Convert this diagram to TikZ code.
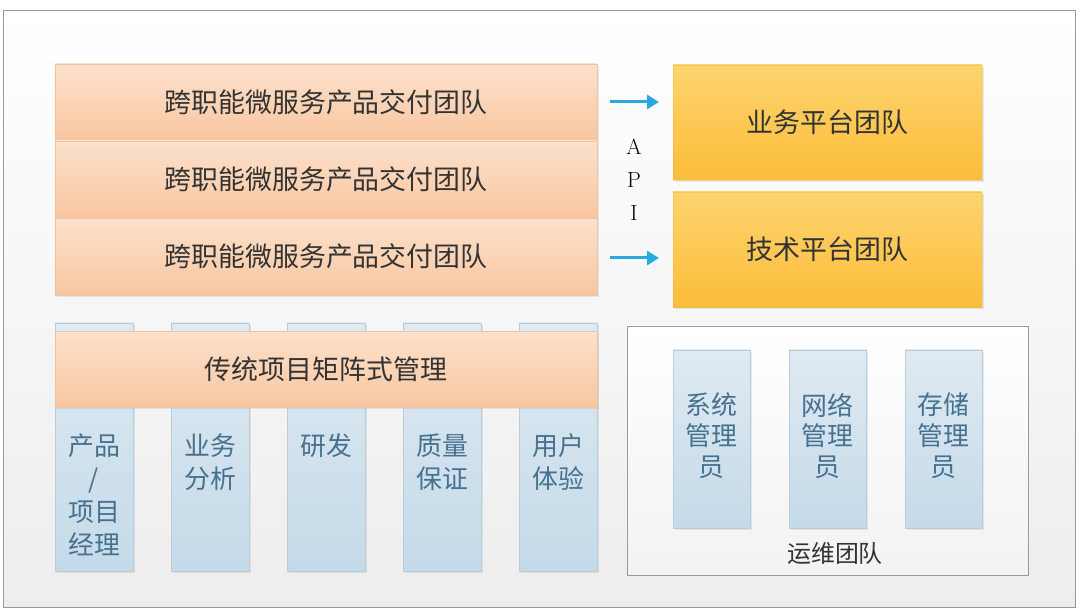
\documentclass[tikz,border=0pt]{standalone}
\usepackage{xcolor}
\usepackage{fontspec}
\usepackage{tikz}
\usetikzlibrary{positioning, shadows, arrows.meta, calc}
\newfontfamily\cjk{Noto Sans CJK SC}
\definecolor{peachtop}{HTML}{FCE1CC}
\definecolor{peachbot}{HTML}{F8C6A0}
\definecolor{peachline}{HTML}{EDC3A3}
\definecolor{ambertop}{HTML}{FDD46E}
\definecolor{amberbot}{HTML}{FBBD3B}
\definecolor{icetop}{HTML}{DFEAF2}
\definecolor{icebot}{HTML}{C5DAE9}
\definecolor{iceline}{HTML}{B9CCDA}
\definecolor{icetext}{HTML}{46728F}
\definecolor{apiblue}{HTML}{2AA8E0}
\definecolor{framegray}{HTML}{9A9A9A}

\begin{document}
\begin{tikzpicture}[x=1bp, y=-1bp, every node/.style={outer sep=0pt}]
		\tikzstyle{delivery}=[draw=peachline, minimum height=77bp, minimum width=542bp, top color=peachtop, bottom color=peachbot, text=black!80, font=\cjk\fontsize{27}{33}\selectfont, drop shadow={shadow xshift=2bp, shadow yshift=-2bp, opacity=0.15}]
		\tikzstyle{platform}=[draw=amberbot!90!black, draw opacity=0.3, minimum height=115bp, minimum width=309bp, top color=ambertop, bottom color=amberbot, text=black!80, font=\cjk\fontsize{27}{33}\selectfont, drop shadow={shadow xshift=2bp, shadow yshift=-2bp, opacity=0.15}]
		\tikzstyle{role}=[draw=iceline, top color=icetop, bottom color=icebot, drop shadow={shadow xshift=2bp, shadow yshift=-2bp, opacity=0.15}]
		\tikzstyle{roletext}=[text=icetext, align=center, inner sep=0pt, font=\cjk\fontsize{26}{33}\selectfont]
		\tikzstyle{apiarrow}=[apiblue, line width=3bp, -{Triangle[length=12bp, width=14bp]}]
		
		%% frame and background
		\fill[white] (0,0) rectangle (1080,616);
		\useasboundingbox (0,0) rectangle (1080,616);
		\shade[top color=white, bottom color=black!7, draw=framegray] (3,10) rectangle (1075,607);
		
		%% delivery teams
		\node [delivery] (D1) at (326,102.5) {跨职能微服务产品交付团队};
		\node [delivery, below=0pt of D1] (D2) {跨职能微服务产品交付团队};
		\node [delivery, below=0pt of D2] (D3) {跨职能微服务产品交付团队};
		
		%% platform teams
		\node [platform] (P1) at (827.5,122.5) {业务平台团队};
		\node [platform, below=12bp of P1] (P2) {技术平台团队};
		
		\node [align=center, font=\fontsize{22}{33}\selectfont] (API) at (634,180) {A\\P\\I};
		\coordinate (a1) at (610,102);
		\coordinate (b1) at (659,102);
		\coordinate (a2) at (610,258);
		\coordinate (b2) at (659,258);
		\draw [apiarrow] (a1) -- (b1);
		\draw [apiarrow] (a2) -- (b2);
		
		%% matrix management
		\foreach \x/\n in {94/1,210/2,326/3,442/4,558/5}
		\node [role, minimum width=78bp, minimum height=248bp] (R\n) at (\x,447) {};
		\node [delivery, minimum height=76bp] (M) at (326,369) {传统项目矩阵式管理};
		
		\node [roletext, anchor=north] (T1) at (94,434) {产品\\/\\项目\\经理};
		\node [roletext, anchor=north] (T2) at (210,434) {业务\\分析};
		\node [roletext, anchor=north] (T3) at (326,434) {研发};
		\node [roletext, anchor=north] (T4) at (442,434) {质量\\保证};
		\node [roletext, anchor=north] (T5) at (558,434) {用户\\体验};
		
		%% operations team
		\node [draw=framegray, top color=white, bottom color=black!5, minimum width=401bp, minimum height=249bp] (O) at (827.5,450.5) {};
		\node [role, minimum width=77bp, minimum height=178bp] (S1) at (711.5,439) {};
		\node [role, minimum width=77bp, minimum height=178bp] (S2) at (827.5,439) {};
		\node [role, minimum width=77bp, minimum height=178bp] (S3) at (943.5,439) {};
		\node [roletext, font=\cjk\fontsize{26}{31}\selectfont] at ([yshift=3bp]S1) {系统\\管理\\员};
		\node [roletext, font=\cjk\fontsize{26}{31}\selectfont] at ([yshift=3bp]S2) {网络\\管理\\员};
		\node [roletext, font=\cjk\fontsize{26}{31}\selectfont] at ([yshift=3bp]S3) {存储\\管理\\员};
		\node [font=\cjk\fontsize{24}{30}\selectfont, text=black!80] (OT) at (835,553) {运维团队};
		
\end{tikzpicture}
\end{document}
